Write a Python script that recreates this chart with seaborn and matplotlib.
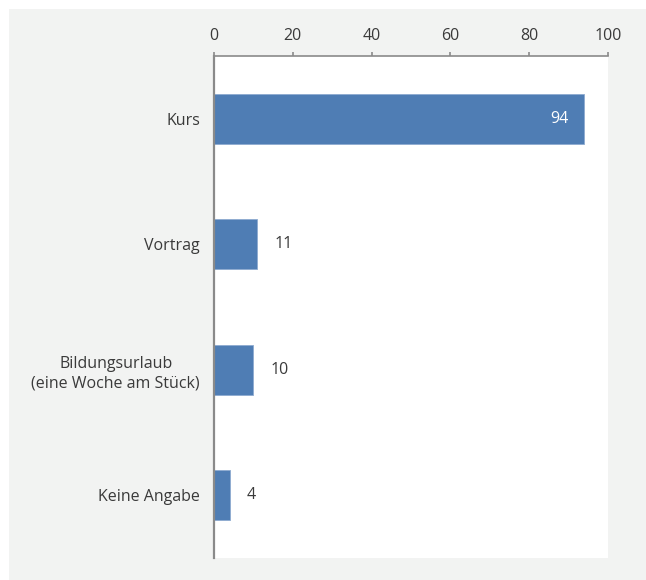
import matplotlib
matplotlib.use("Agg")
import matplotlib.pyplot as plt
from matplotlib.patches import Rectangle
import seaborn as sns
import pandas as pd

categories = ["Kurs", "Vortrag", "Bildungsurlaub\n(eine Woche am Stück)", "Keine Angabe"]
values = [94, 11, 10, 4]
x_ticks = [0, 20, 40, 60, 80, 100]

sns.set_theme(style="white")
plt.rcParams["font.family"] = ["Open Sans", "DejaVu Sans"]

W, H = 646, 580
fig = plt.figure(figsize=(W / 100, H / 100), dpi=100, facecolor="white")
# light grey panel behind the chart
fig.patches.append(Rectangle((9 / W, 0), 1 - 9 / W, 1 - 9 / H, transform=fig.transFigure,
                             facecolor="#f2f3f2", edgecolor="none", zorder=-10))

ax = fig.add_axes([214 / W, (H - 558) / H, (608 - 214) / W, (558 - 56) / H])
ax.set_facecolor("white")

df = pd.DataFrame({"Kategorie": categories, "Anteil": values})
sns.barplot(data=df, x="Anteil", y="Kategorie", orient="h", color="#4f7db4",
            saturation=1, width=0.4, ax=ax, edgecolor="#8eabd0", linewidth=0.6)

ax.set_xlim(0, 100)
ax.set_ylim(3.5, -0.5)
ax.xaxis.tick_top()
ax.set_xticks(x_ticks)
ax.set_xlabel("")
ax.set_ylabel("")

fs = 11.5
text_color = "#3a3a3a"
spine_color = "#8a8a8a"
ax.tick_params(axis="x", which="major", direction="out", length=3, width=1.2,
               color=spine_color, labelsize=fs, labelcolor=text_color, pad=6)
ax.tick_params(axis="y", which="major", length=0, labelsize=fs,
               labelcolor=text_color, pad=10)
ax.set_yticks([0.5, 1.5, 2.5, 3.5], minor=True)
ax.tick_params(axis="y", which="minor", direction="out", length=4, width=1.2,
               color=spine_color)
for lbl in ax.get_yticklabels():
    lbl.set_horizontalalignment("right")
    lbl.set_multialignment("center")
    lbl.set_linespacing(1.35)

for side in ["right", "bottom"]:
    ax.spines[side].set_visible(False)
ax.spines["top"].set_color(spine_color)
ax.spines["top"].set_linewidth(1.2)
ax.spines["left"].set_color(spine_color)
ax.spines["left"].set_linewidth(1.6)

for i, v in enumerate(values):
    if v > 50:
        ax.annotate(str(v), xy=(v, i), xytext=(-16, 0), textcoords="offset pixels",
                    ha="right", va="center", color="white", fontsize=fs)
    else:
        ax.annotate(str(v), xy=(v, i), xytext=(17, 0), textcoords="offset pixels",
                    ha="left", va="center", color=text_color, fontsize=fs)

fig.savefig("out.png", dpi=100, facecolor="white")
